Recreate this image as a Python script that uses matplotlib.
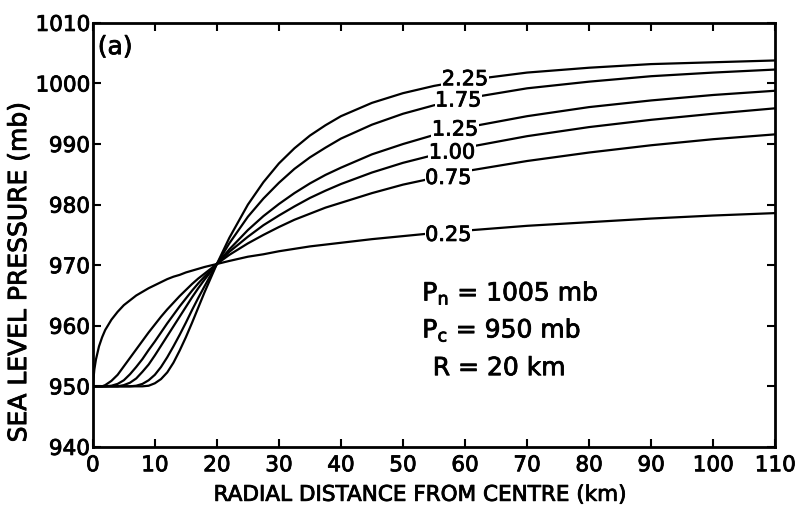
import matplotlib
matplotlib.use("Agg")
import matplotlib.pyplot as plt
import matplotlib.patheffects as pe

plt.rcParams['font.family'] = ['DejaVu Sans']

radius_km = [0, 0.25, 0.5, 1, 1.5, 2, 3, 4, 5, 6, 7, 8, 9, 10, 11, 12, 13, 14,
             15, 16, 17, 18, 20, 22, 25, 27.5, 30, 32.5, 35, 37.5, 40, 45, 50, 55,
             60, 70, 80, 90, 100, 110]

p_025 = [950.0, 952.8, 954.4, 956.6, 958.1, 959.3, 961.0, 962.3, 963.4, 964.2, 965.0, 965.6,
         966.2, 966.7, 967.2, 967.7, 968.1, 968.4,
         968.8, 969.1, 969.4, 969.7, 970.2, 970.7, 971.4, 971.8, 972.3, 972.7, 973.1, 973.4,
         973.7, 974.3, 974.8, 975.3, 975.7, 976.5, 977.1, 977.7, 978.2, 978.6]
p_075 = [950.0, 950.0, 950.0, 950.0, 950.0, 950.2, 950.9, 951.9, 953.3, 954.7, 956.1, 957.5,
         958.9, 960.2, 961.5, 962.7, 963.8, 964.9,
         965.9, 966.9, 967.8, 968.6, 970.2, 971.7, 973.6, 975.0, 976.3, 977.5, 978.5, 979.5,
         980.3, 981.9, 983.3, 984.4, 985.5, 987.2, 988.6, 989.8, 990.8, 991.6]
p_100 = [950.0, 950.0, 950.0, 950.0, 950.0, 950.0, 950.1, 950.4, 951.0, 952.0, 953.2, 954.5,
         956.0, 957.4, 958.9, 960.4, 961.8, 963.2,
         964.5, 965.8, 967.0, 968.1, 970.2, 972.2, 974.7, 976.6, 978.2, 979.7, 981.1, 982.3,
         983.4, 985.3, 986.9, 988.2, 989.4, 991.3, 992.8, 994.0, 995.0, 995.9]
p_125 = [950.0, 950.0, 950.0, 950.0, 950.0, 950.0, 950.0, 950.0, 950.2, 950.6, 951.3, 952.4,
         953.6, 955.1, 956.7, 958.3, 959.9, 961.5,
         963.1, 964.7, 966.2, 967.6, 970.2, 972.6, 975.8, 978.1, 980.1, 981.9, 983.5, 984.9,
         986.1, 988.3, 990.0, 991.5, 992.7, 994.6, 996.1, 997.2, 998.1, 998.8]
p_175 = [950.0, 950.0, 950.0, 950.0, 950.0, 950.0, 950.0, 950.0, 950.0, 950.0, 950.1, 950.4,
         951.0, 951.9, 953.2, 954.8, 956.6, 958.5,
         960.5, 962.6, 964.6, 966.5, 970.2, 973.6, 978.0, 981.0, 983.6, 985.9, 987.8, 989.4,
         990.9, 993.2, 995.0, 996.4, 997.5, 999.2, 1000.3, 1001.2, 1001.8, 1002.3]
p_225 = [950.0, 950.0, 950.0, 950.0, 950.0, 950.0, 950.0, 950.0, 950.0, 950.0, 950.0, 950.0,
         950.1, 950.5, 951.2, 952.3, 953.9, 955.9,
         958.1, 960.5, 963.0, 965.5, 970.2, 974.5, 980.0, 983.7, 986.8, 989.3, 991.4, 993.1,
         994.6, 996.8, 998.4, 999.6, 1000.5, 1001.8, 1002.6, 1003.2, 1003.5, 1003.8]

series = [p_025, p_075, p_100, p_125, p_175, p_225]
labels = ["0.25", "0.75", "1.00", "1.25", "1.75", "2.25"]
label_x = [57.3, 57.3, 57.9, 58.4, 58.9, 60.0]
label_y = [975.0, 984.4, 988.6, 992.4, 997.2, 1000.7]

x_ticks = list(range(0, 111, 10))
y_ticks = list(range(940, 1011, 10))

thick = [pe.withStroke(linewidth=0.6, foreground='black')]

fig = plt.figure(figsize=(8, 5.09), dpi=100)
ax = fig.add_axes([0.116, 0.122, 0.853, 0.833])

for ys in series:
    ax.plot(radius_km, ys, color='black', lw=1.6, solid_capstyle='round',
            solid_joinstyle='round', zorder=2)

for lab, lx, ly in zip(labels, label_x, label_y):
    ax.text(lx, ly, lab, ha='center', va='center', fontsize=15, zorder=3,
            path_effects=thick,
            bbox=dict(facecolor='white', edgecolor='none', pad=0.3))

ax.set_xlim(0, 110)
ax.set_ylim(940, 1010)
ax.set_xticks(x_ticks)
ax.set_yticks(y_ticks)
ax.tick_params(direction='in', length=6, width=1.5, labelsize=15.5,
               top=True, right=True)
ax.tick_params(axis='x', pad=6)
ax.tick_params(axis='y', pad=2)
for t in ax.get_xticklabels() + ax.get_yticklabels():
    t.set_path_effects(thick)
for s in ax.spines.values():
    s.set_linewidth(2)

ax.set_xlabel("RADIAL DISTANCE FROM CENTRE (km)", fontsize=15.5, path_effects=thick,
              va='center')
ax.xaxis.set_label_coords(0.48, -0.113)
ax.set_ylabel("SEA LEVEL PRESSURE (mb)", fontsize=18, path_effects=thick,
              va='center', ha='center')
ax.yaxis.set_label_coords(-0.108, 0.413)

ax.text(0.8, 1006.0, "(a)", fontsize=18, ha='left', va='center', path_effects=thick)

ax.text(53.1, 965.4, r"P$_\mathregular{n}$ = 1005 mb", fontsize=18, ha='left', va='center',
        path_effects=thick)
ax.text(53.1, 959.3, r"P$_\mathregular{c}$ = 950 mb", fontsize=18, ha='left', va='center',
        path_effects=thick)
ax.text(54.8, 953.0, "R = 20 km", fontsize=18, ha='left', va='center', path_effects=thick)

fig.savefig("out.png", dpi=100)
